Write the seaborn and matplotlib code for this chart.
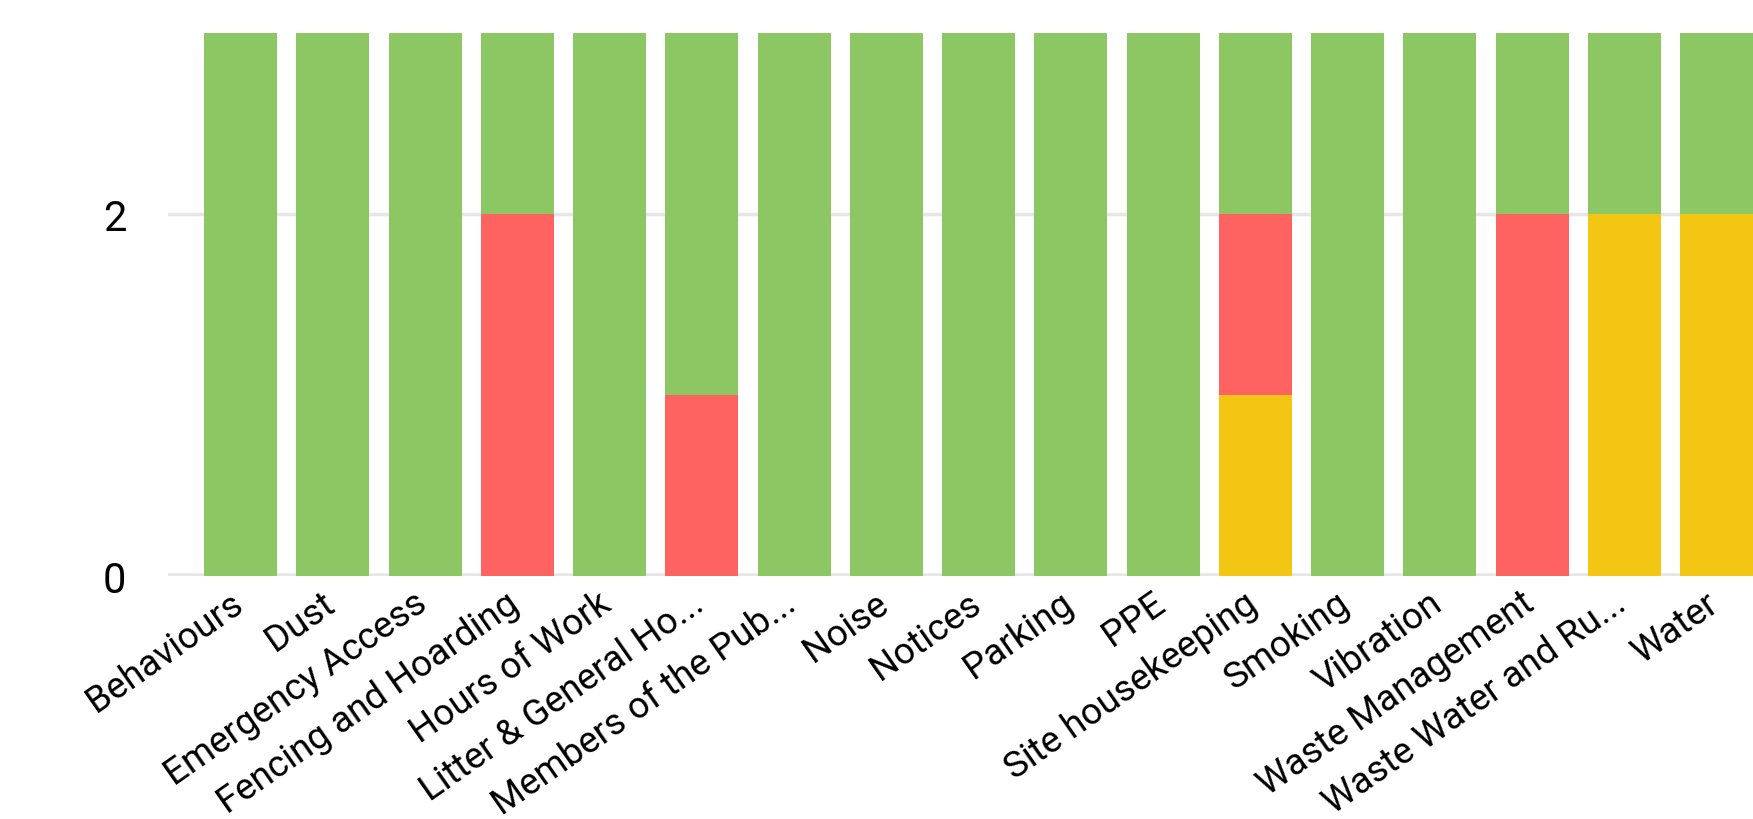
import matplotlib
matplotlib.use("Agg")
import matplotlib.pyplot as plt
import matplotlib.transforms as mtransforms
import pandas as pd
import seaborn as sns

# Category labels as shown (truncated the same way as the chart)
CATEGORIES = [
    "Behaviours", "Dust", "Emergency Access", "Fencing and Hoarding",
    "Hours of Work", "Litter & General Ho...", "Members of the Pub...",
    "Noise", "Notices", "Parking", "PPE", "Site housekeeping", "Smoking",
    "Vibration", "Waste Management", "Waste Water and Ru...", "Water",
]
# stacked from the bottom: yellow, red, green
YELLOW_VALUES = [0, 0, 0, 0, 0, 0, 0, 0, 0, 0, 0, 1, 0, 0, 0, 2, 2]
RED_VALUES = [0, 0, 0, 2, 0, 1, 0, 0, 0, 0, 0, 1, 0, 0, 2, 0, 0]
GREEN_VALUES = [3, 3, 3, 1, 3, 2, 3, 3, 3, 3, 3, 1, 3, 3, 1, 1, 1]
Y_TICKS = [0, 2]

GREEN = "#8CC764"
RED = "#FF6361"
YELLOW = "#F2C612"
GRID = "#E6E6E6"

df = pd.DataFrame({
    "category": CATEGORIES,
    "yellow": YELLOW_VALUES,
    "red": RED_VALUES,
    "green": GREEN_VALUES,
})
# cumulative heights so each layer can be drawn on top of the one below
df["top_yellow"] = df["yellow"]
df["top_red"] = df["yellow"] + df["red"]
df["top_green"] = df["top_red"] + df["green"]

sns.set_style("white")
plt.rcParams["font.family"] = ["Roboto", "DejaVu Sans"]

fig = plt.figure(figsize=(17.53, 8.2), dpi=100)
ax = fig.add_axes([0.0957, 0.296, 0.9043, 0.662])

for col, color in [("top_green", GREEN), ("top_red", RED), ("top_yellow", YELLOW)]:
    sns.barplot(data=df, x="category", y=col, color=color, width=0.79,
                saturation=1, linewidth=0, ax=ax, zorder=3)

ax.set_xlim(-0.79, len(CATEGORIES) - 1 + 0.395)
ax.set_ylim(0, 3)
ax.set_yticks(Y_TICKS)
ax.set_xlabel("")
ax.set_ylabel("")

# horizontal gridlines behind the bars
ax.axhline(2, color=GRID, lw=2.5, zorder=1)
ax.axhline(0, color=GRID, lw=4, zorder=2)
for spine in ax.spines.values():
    spine.set_visible(False)

ax.tick_params(axis="y", length=0, pad=30, labelsize=30, labelcolor="black")
ax.tick_params(axis="x", length=0, pad=6, labelcolor="black")
ax.set_xticks(range(len(CATEGORIES)))
ax.set_xticklabels(CATEGORIES, rotation=35, ha="right", va="top",
                   rotation_mode="anchor", fontsize=26.5, color="black")

# nudge the rotated labels slightly left of the bar centres
shift = mtransforms.ScaledTranslation(-0.12, 0, fig.dpi_scale_trans)
for lbl in ax.get_xticklabels():
    lbl.set_transform(lbl.get_transform() + shift)

fig.savefig("out.png", dpi=100)
